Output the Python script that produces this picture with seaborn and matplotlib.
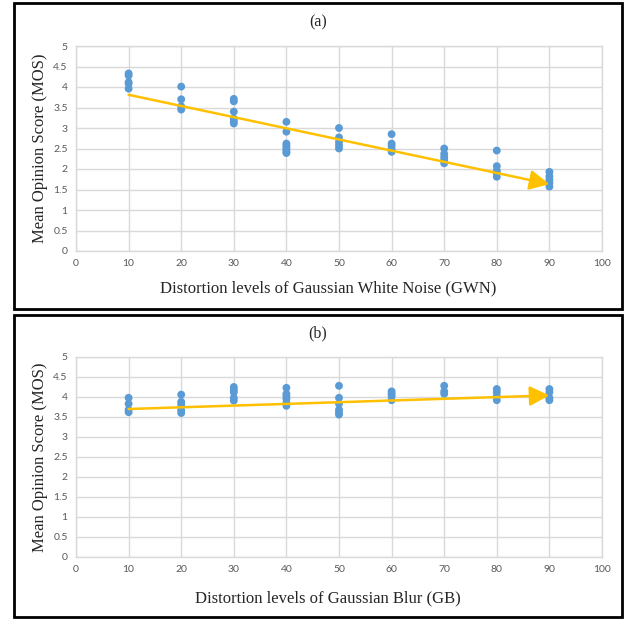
import matplotlib
matplotlib.use("Agg")
import matplotlib.pyplot as plt
from matplotlib.patches import Rectangle
from matplotlib.ticker import FuncFormatter, MultipleLocator
import seaborn as sns
import pandas as pd

# distortion levels (x) and MOS ratings
levels = [10, 20, 30, 40, 50, 60, 70, 80, 90]

mos_gwn = [
    [4.33, 4.28, 4.12, 4.08, 3.96],
    [4.01, 3.70, 3.53, 3.45],
    [3.71, 3.65, 3.40, 3.23, 3.16, 3.11],
    [3.15, 2.91, 2.62, 2.57, 2.52, 2.47, 2.42, 2.39],
    [3.00, 2.77, 2.66, 2.58, 2.50],
    [2.85, 2.62, 2.56, 2.48, 2.42],
    [2.50, 2.37, 2.29, 2.22, 2.14],
    [2.45, 2.07, 1.96, 1.89, 1.81],
    [1.93, 1.82, 1.74, 1.66, 1.57],
]
mos_gb = [
    [3.98, 3.83, 3.68, 3.62],
    [4.06, 3.88, 3.81, 3.67, 3.60],
    [4.25, 4.18, 4.12, 3.98, 3.91],
    [4.23, 4.08, 4.02, 3.95, 3.85, 3.78],
    [4.28, 3.98, 3.83, 3.68, 3.62, 3.56],
    [4.14, 4.08, 4.02, 3.92],
    [4.28, 4.14, 4.08],
    [4.20, 4.12, 4.02, 3.92],
    [4.20, 4.12, 3.98, 3.92],
]
# trendline end points (x=10 -> x=90)
trend_x = [10, 90]
trend_gwn = [3.81, 1.63]
trend_gb = [3.70, 4.04]

titles = ["(a)", "(b)"]
xlabels = ["Distortion levels of Gaussian White Noise (GWN)",
           "Distortion levels of Gaussian Blur (GB)"]
ylabel = "Mean Opinion Score (MOS)"


def to_frame(vals):
    rows = []
    for lv, vs in zip(levels, vals):
        for v in vs:
            rows.append({"level": lv, "mos": v})
    return pd.DataFrame(rows)


sns.set_theme(style="white")
plt.rcParams["font.family"] = ["Liberation Serif", "DejaVu Serif"]

W, H = 627, 619
fig = plt.figure(figsize=(W / 100, H / 100), dpi=100)

grid_c = "#d9d9d9"
tick_c = "#595959"
dot_c = "#5b9bd5"
line_c = "#ffc000"

panels = [
    # box top/bottom, plot top/bottom, title y, xlabel y (pixels)
    dict(vals=mos_gwn, trend=trend_gwn, box=(3, 309), plot=(46, 251), ty=22, xy=288),
    dict(vals=mos_gb, trend=trend_gb, box=(315, 617), plot=(357, 557), ty=333, xy=598),
]

for i, p in enumerate(panels):
    bt, bb = p["box"]
    fig.patches.append(Rectangle((14 / W, 1 - bb / H), 608 / W, (bb - bt) / H,
                                 transform=fig.transFigure, fill=False,
                                 edgecolor="black", linewidth=2, zorder=0))
    pt, pb = p["plot"]
    ax = fig.add_axes([76 / W, 1 - pb / H, 526 / W, (pb - pt) / H])
    df = to_frame(p["vals"])
    sns.scatterplot(data=df, x="level", y="mos", ax=ax, color=dot_c,
                    s=32, edgecolor="none", zorder=3, legend=False)
    ax.annotate("", xy=(trend_x[1], p["trend"][1]), xytext=(trend_x[0], p["trend"][0]),
                arrowprops=dict(arrowstyle="-|>,head_length=1.0,head_width=0.5",
                                color=line_c, lw=1.8, shrinkA=0, shrinkB=0),
                zorder=4)
    ax.set_xlim(0, 100)
    ax.set_ylim(0, 5)
    ax.xaxis.set_major_locator(MultipleLocator(10))
    ax.yaxis.set_major_locator(MultipleLocator(0.5))
    ax.yaxis.set_major_formatter(FuncFormatter(lambda v, _: f"{v:g}"))
    ax.grid(True, color=grid_c, linewidth=1)
    ax.set_axisbelow(True)
    for s in ax.spines.values():
        s.set_color(grid_c)
        s.set_linewidth(1)
    ax.tick_params(length=0, labelsize=7.5, labelcolor=tick_c, pad=6)
    for lab in ax.get_xticklabels() + ax.get_yticklabels():
        lab.set_fontfamily("Lato")
    ax.set_xlabel("")
    ax.set_ylabel("")

    fig.text(318 / W, 1 - p["ty"] / H, titles[i], ha="center", va="center", fontsize=11.5)
    fig.text(328 / W, 1 - p["xy"] / H, xlabels[i], ha="center", va="center", fontsize=12)
    fig.text(40 / W, 1 - ((pt + pb) / 2) / H, ylabel, ha="center", va="center",
             rotation=90, fontsize=12)

fig.savefig("out.png", dpi=100)
plt.close(fig)
